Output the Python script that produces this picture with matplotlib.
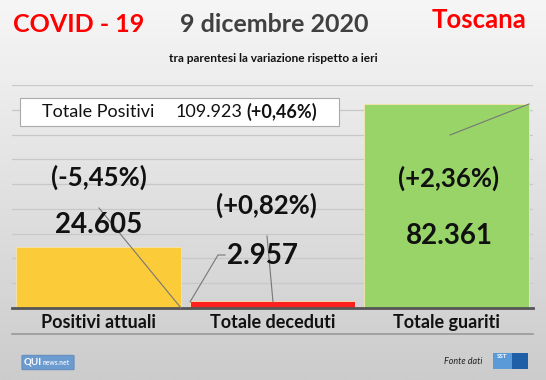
import matplotlib
matplotlib.use("Agg")
import matplotlib.pyplot as plt
from matplotlib.patches import FancyBboxPatch, Rectangle
import numpy as np

plt.rcParams['font.family'] = ['Lato', 'DejaVu Sans']

categories = ["Positivi attuali", "Totale deceduti", "Totale guariti"]
values = [24605, 2957, 82361]
value_labels = ["24.605", "2.957", "82.361"]
pct_labels = ["(-5,45%)", "(+0,82%)", "(+2,36%)"]
bar_colors = ["#FBCB3A", "#FF2020", "#98D468"]
total_label = "Totale Positivi"
total_value = "109.923"
total_pct = "(+0,46%)"

W, H = 546, 380
fig = plt.figure(figsize=(W / 100, H / 100), dpi=100)

# background gradient
bg = fig.add_axes([0, 0, 1, 1], zorder=-10)
grad = np.linspace(0, 1, 256).reshape(-1, 1)
top = np.array([0.965, 0.965, 0.965])
bot = np.array([0.80, 0.80, 0.80])
img = top[None, None, :] * (1 - grad[:, :, None]) + bot[None, None, :] * grad[:, :, None]
bg.imshow(img, aspect='auto', extent=[0, 1, 0, 1])
bg.set_axis_off()

def fx(px):
    return px / W

def fy(py):
    return 1 - py / H

ax = fig.add_axes([fx(12), fy(308), fx(533) - fx(12), fy(85) - fy(308)])
ax.patch.set_alpha(0)
x = np.arange(len(categories))
ax.bar(x, values, width=0.95, color=bar_colors, edgecolor="#f4e6b0", linewidth=0.6, zorder=2)
ax.set_ylim(0, 90000)
ax.set_xlim(-0.5, 2.5)
ax.set_yticks(np.arange(10000, 90001, 10000))
ax.yaxis.grid(True, color="#c8c8c8", linewidth=0.9, zorder=0)
ax.set_axisbelow(True)
ax.tick_params(left=False, bottom=False, labelleft=False)
for s in ["top", "right", "left"]:
    ax.spines[s].set_visible(False)
ax.spines["bottom"].set_color("#555555")
ax.spines["bottom"].set_linewidth(2.0)
ax.set_xticks(x)
ax.set_xticklabels(categories, fontsize=13, fontweight="bold", color="#111111")
ax.tick_params(axis='x', pad=1)

# bottom line of plot area
fig.add_artist(plt.Line2D([fx(12), fx(533)], [fy(334), fy(334)], color="#999999", lw=1.2))

# data labels (figure pixel coords)
val_pos = [(99, 225), (263, 256), (449, 236)]
pct_pos = [(99, 177), (266, 205), (449, 178)]
for (vx, vy), t in zip(val_pos, value_labels):
    fig.text(fx(vx), fy(vy), t, ha="center", va="center", fontsize=20, fontweight="bold", color="#111111")
for (px_, py_), t in zip(pct_pos, pct_labels):
    fig.text(fx(px_), fy(py_), t, ha="center", va="center", fontsize=18.5, fontweight="bold", color="#111111")

# leader lines
lc = "#777777"
fig.add_artist(plt.Line2D([fx(99), fx(181)], [fy(208), fy(308)], color=lc, lw=0.8))
fig.add_artist(plt.Line2D([fx(190), fx(218), fx(225)], [fy(302), fy(255), fy(255)], color=lc, lw=0.8))
fig.add_artist(plt.Line2D([fx(267), fx(273)], [fy(236), fy(302)], color=lc, lw=0.8))
fig.add_artist(plt.Line2D([fx(450), fx(529)], [fy(135), fy(104)], color=lc, lw=0.8))

# titles
fig.text(fx(13), fy(25), "COVID - 19", ha="left", va="center", fontsize=18, fontweight="bold", color="#FF0000")
fig.text(fx(274), fy(24), "9 dicembre 2020", ha="center", va="center", fontsize=18, fontweight="bold", color="#404040")
fig.text(fx(479), fy(20), "Toscana", ha="center", va="center", fontsize=18.5, fontweight="bold", color="#FF0000")
fig.text(fx(273), fy(58), "tra parentesi la variazione rispetto a ieri", ha="center", va="center", fontsize=8.6, fontweight="bold", color="#111111")

# total box
fig.add_artist(Rectangle((fx(20), fy(126)), fx(339) - fx(20), fy(98) - fy(126), facecolor="white", edgecolor="#aaaaaa", lw=0.8))
fig.text(fx(42), fy(112), total_label, ha="left", va="center", fontsize=13, color="#111111")
fig.text(fx(176), fy(112), total_value, ha="left", va="center", fontsize=13, color="#111111")
fig.text(fx(246), fy(112), total_pct, ha="left", va="center", fontsize=13, fontweight="bold", color="#111111")

# footer
fig.add_artist(FancyBboxPatch((fx(23), fy(369)), fx(73) - fx(23), fy(356) - fy(369),
                              boxstyle="round,pad=0.002", facecolor="#6c9bd0", edgecolor="#5a86ba", lw=0.6))
fig.text(fx(24), fy(362), "QUI", ha="left", va="center", fontsize=7, fontweight="bold", color="white")
fig.text(fx(43), fy(362.5), "news.net", ha="left", va="center", fontsize=4.8, fontweight="bold", color="#e8eef8")
fig.text(fx(482), fy(362), "Fonte dati", ha="right", va="center", fontsize=6.5, style="italic", color="#222222")
fig.add_artist(Rectangle((fx(493), fy(369)), fx(512) - fx(493), fy(353) - fy(369), facecolor="#5b9ad8", edgecolor="none"))
fig.text(fx(502.5), fy(356.5), "SST", ha="center", va="center", fontsize=4.5, fontweight="bold", color="white")
fig.add_artist(Rectangle((fx(512), fy(369)), fx(528) - fx(512), fy(353) - fy(369), facecolor="#1f5fa8", edgecolor="none"))

fig.savefig("out.png", dpi=100)
